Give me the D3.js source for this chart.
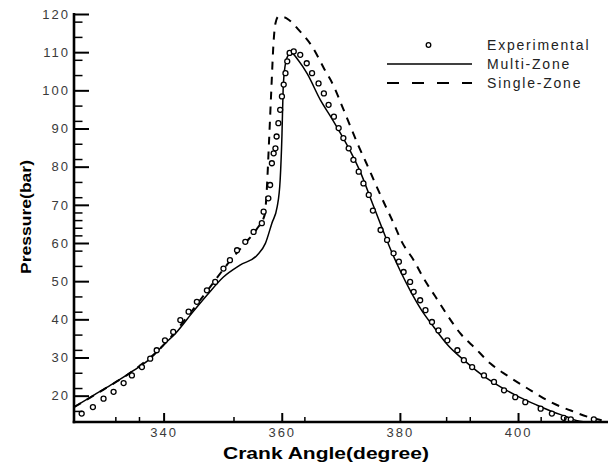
<!DOCTYPE html>
<html><head><meta charset="utf-8">
<script src="https://cdn.jsdelivr.net/npm/d3@7"></script>
<style>html,body{margin:0;padding:0;background:#fff;}svg{display:block;}</style>
</head><body>
<svg id="chart" width="609" height="466"></svg>
<script>
// ---- data ----
const xMajorTicks = [340, 360, 380, 400];
const xMinorTicks = [332, 336, 352, 364, 388, 392, 404, 408];
const yMajorTicks = [20, 30, 40, 50, 60, 70, 80, 90, 100, 110, 120];
const yMinorTicks = [16, 22, 26, 32, 36, 42, 46, 54, 58, 62, 64, 66, 68, 72, 76, 82, 86, 92, 96, 104, 108, 114, 118];

const legendLabels = ["Experimental", "Multi-Zone", "Single-Zone"];

const expAngle = [326.3,328.2,330.0,331.7,333.4,334.8,336.5,337.9,339.0,340.4,341.8,343.0,344.4,345.8,347.5,348.9,350.3,351.4,352.6,354.0,355.4,356.8,357.1,357.9,358.2,358.5,358.8,359.1,359.3,359.6,359.9,360.2,360.5,360.8,361.1,361.5,362.2,363.3,364.4,365.3,366.4,367.3,368.1,369.0,369.8,370.6,371.5,372.3,373.2,374.0,374.9,375.6,376.9,378.0,379.1,380.0,380.8,381.9,382.5,383.6,384.5,385.6,386.7,388.2,389.9,391.0,392.4,394.4,396.1,397.8,399.7,401.4,404.0,405.9,407.9,409.1,413.0];
const expPressure = [15.3,17.0,19.2,21.0,23.3,25.3,27.5,29.7,31.9,34.5,36.7,39.8,42.0,44.6,47.6,49.8,53.3,55.5,58.1,60.3,62.9,65.2,68.2,71.7,75.2,80.9,83.5,84.8,87.9,91.4,94.9,98.4,101.5,104.5,107.6,109.8,110.2,109.3,107.1,104.5,101.8,99.2,96.2,93.1,90.1,87.5,84.8,81.8,78.7,75.6,72.6,68.5,63.4,60.8,57.3,55.1,52.4,49.8,47.2,45.0,42.4,39.3,37.1,34.5,31.9,29.3,27.5,25.3,23.6,21.4,19.6,18.3,16.6,15.3,14.2,13.8,13.8];

const multiAngle = [325.0,328.3,331.7,335.1,337.9,340.1,342.4,344.9,347.5,350.3,353.1,356.0,357.4,358.5,359.4,359.9,360.2,360.4,360.7,361.2,361.8,363.0,364.5,366.7,368.5,370.1,371.8,373.5,375.5,377.0,378.6,380.2,381.9,383.8,385.9,388.3,391.0,394.0,397.2,400.3,403.4,406.0,408.5,410.0,411.5];
const multiPressure = [17.0,20.1,23.2,26.6,29.7,33.2,36.7,41.5,46.3,51.1,54.2,56.8,59.9,65.2,69.5,76.5,88.0,100.0,106.0,109.0,109.8,107.8,104.3,97.5,93.0,88.8,84.0,78.5,70.5,64.5,58.3,52.8,47.6,42.5,38.0,33.2,29.3,25.5,22.3,19.7,17.5,15.8,14.4,13.5,13.1];

const singleAngle = [325.0,330.0,335.0,340.0,345.0,348.0,351.0,354.0,356.0,357.3,357.6,358.0,358.4,358.8,359.1,359.6,360.5,361.5,363.0,365.3,367.3,369.0,370.4,371.8,373.2,374.5,376.0,377.4,379.1,380.5,382.5,384.2,386.2,388.2,390.4,393.0,395.5,398.3,402.3,405.7,409.1,413.0,415.4];
const singlePressure = [17.0,21.6,26.5,33.0,42.3,48.4,54.5,60.0,63.8,67.5,73.0,86.0,100.0,113.0,117.5,119.3,119.2,118.3,115.9,111.5,105.8,101.0,95.8,90.5,85.3,80.9,75.6,70.8,65.2,60.3,55.5,50.7,45.9,41.1,36.3,32.3,28.4,25.3,21.4,18.3,16.1,14.0,13.3];

// ---- layout ----
const svg = d3.select("#chart");
const pL = 74, pR = 608, pT = 14, pB = 422;
const x = d3.scaleLinear().domain([325, 415.4]).range([pL, pR]);
const y = d3.scaleLinear().domain([13.1, 120]).range([pB, pT]);
const font = "'Liberation Sans', Arial, Helvetica, sans-serif";

svg.append("defs").append("clipPath").attr("id", "plot")
  .append("rect").attr("x", pL).attr("y", pT - 8).attr("width", pR - pL).attr("height", pB - pT + 8);

const plot = svg.append("g").attr("clip-path", "url(#plot)");

const line = d3.line().x(d => x(d[0])).y(d => y(d[1])).curve(d3.curveMonotoneX);

plot.append("path")
  .attr("d", line(singleAngle.map((a, i) => [a, singlePressure[i]])))
  .attr("fill", "none").attr("stroke", "#000").attr("stroke-width", 2)
  .attr("stroke-dasharray", "8,7");

plot.append("path")
  .attr("d", line(multiAngle.map((a, i) => [a, multiPressure[i]])))
  .attr("fill", "none").attr("stroke", "#000").attr("stroke-width", 1.5);

plot.selectAll("circle.exp").data(expAngle.map((a, i) => [a, expPressure[i]]))
  .enter().append("circle").attr("class", "exp")
  .attr("cx", d => x(d[0])).attr("cy", d => y(d[1])).attr("r", 2.5)
  .attr("fill", "#fff").attr("stroke", "#000").attr("stroke-width", 1.3);

// ---- axes ----
const xAxisMajor = d3.axisBottom(x).tickValues(xMajorTicks).tickSize(-9).tickPadding(6).tickFormat(d3.format("d"));
const xAxisMinor = d3.axisBottom(x).tickValues(xMinorTicks).tickSize(-5).tickFormat("");
const yAxisMajor = d3.axisLeft(y).tickValues(yMajorTicks).tickSize(-15).tickPadding(4).tickFormat(d3.format("d"));
const yAxisMinor = d3.axisLeft(y).tickValues(yMinorTicks).tickSize(-8.5).tickFormat("");

function style(g, w) {
  g.select(".domain").remove();
  g.selectAll(".tick line").attr("stroke", "#000").attr("stroke-width", w);
  g.selectAll(".tick text").attr("fill", "#3a3a3a").style("font-family", font)
    .style("font-size", "13px").style("letter-spacing", "2px");
}
svg.append("g").attr("transform", `translate(0,${pB})`).call(xAxisMinor).call(g => style(g, 1.5));
svg.append("g").attr("transform", `translate(1,${pB})`).call(xAxisMajor).call(g => style(g, 2));
svg.append("g").attr("transform", `translate(${pL},0)`).call(yAxisMinor).call(g => style(g, 1.5));
svg.append("g").attr("transform", `translate(${pL},0)`).call(yAxisMajor).call(g => style(g, 2));

svg.append("line").attr("x1", pL).attr("x2", pL).attr("y1", pT - 1).attr("y2", pB + 1.3)
  .attr("stroke", "#000").attr("stroke-width", 2.6);
svg.append("line").attr("x1", pL - 1.3).attr("x2", pR).attr("y1", pB).attr("y2", pB)
  .attr("stroke", "#000").attr("stroke-width", 2.6);

// axis titles
svg.append("text").attr("x", 326).attr("y", 459).attr("text-anchor", "middle")
  .style("font-family", font).style("font-weight", "bold").style("font-size", "16px")
  .attr("textLength", 206).attr("lengthAdjust", "spacingAndGlyphs")
  .text("Crank Angle(degree)");
svg.append("text").attr("transform", "translate(31,217) rotate(-90)").attr("text-anchor", "middle")
  .style("font-family", font).style("font-weight", "bold").style("font-size", "15px")
  .attr("textLength", 114).attr("lengthAdjust", "spacingAndGlyphs")
  .text("Pressure(bar)");

// ---- legend ----
const lg = svg.append("g");
const lx1 = 387, lx2 = 472, tx = 487, ly = [45, 64, 83];
lg.append("circle").attr("cx", (lx1 + lx2) / 2 - 1).attr("cy", ly[0]).attr("r", 2.3)
  .attr("fill", "#fff").attr("stroke", "#000").attr("stroke-width", 1.3);
lg.append("line").attr("x1", lx1).attr("x2", lx2).attr("y1", ly[1]).attr("y2", ly[1])
  .attr("stroke", "#000").attr("stroke-width", 1.5);
lg.append("line").attr("x1", lx1).attr("x2", lx2).attr("y1", ly[2]).attr("y2", ly[2])
  .attr("stroke", "#000").attr("stroke-width", 2.2).attr("stroke-dasharray", "12,13");
lg.selectAll("text.lg").data(legendLabels).enter().append("text").attr("class", "lg")
  .attr("x", tx).attr("y", (d, i) => ly[i] + 4.5)
  .style("font-family", font).style("font-size", "14px").style("letter-spacing", "1.8px")
  .attr("fill", "#222")
  .text(d => d);
</script>
</body></html>
